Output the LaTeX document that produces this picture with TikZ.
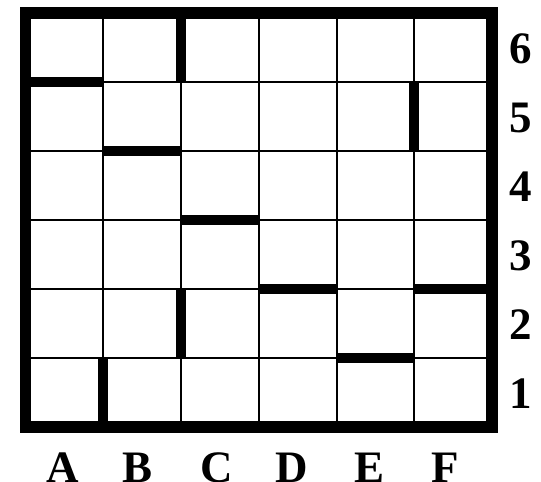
\documentclass[tikz,border=0pt]{standalone}
\usepackage{fontspec}
\setmainfont{Liberation Serif}
\begin{document}
\begin{tikzpicture}[x=1pt,y=-1pt,
  gridline/.style={line width=2pt},
  wall/.style={line width=10pt},
  border/.style={line width=11.5pt},
  lab/.style={font=\fontsize{45}{45}\selectfont\bfseries, inner sep=0pt}]
\useasboundingbox (0,0) rectangle (541,482);
\foreach \i in {0,...,6}
  \foreach \j in {0,...,6}
    \coordinate (g-\i-\j) at ({25.5+\i*77.75},{13+\j*69});
\foreach \i in {1,...,5} \draw[gridline] (g-\i-0) -- (g-\i-6);
\foreach \j in {1,...,5} \draw[gridline] (g-0-\j) -- (g-6-\j);
% walls
\draw[wall] (g-2-0) -- (g-2-1);
\draw[wall] (g-0-1) -- (g-1-1);
\draw[wall] (g-1-2) -- (g-2-2);
\draw[wall] (g-5-1) -- (g-5-2);
\draw[wall] (g-2-3) -- (g-3-3);
\draw[wall] (g-3-4) -- (g-4-4);
\draw[wall] (g-5-4) -- (g-6-4);
\draw[wall] (g-2-4) -- (g-2-5);
\draw[wall] (g-4-5) -- (g-5-5);
\draw[wall] (g-1-5) -- (g-1-6);
\draw[border] (g-0-0) rectangle (g-6-6);
% row labels
\foreach \r [count=\k from 0] in {6,5,4,3,2,1}
  \node[lab] (row\r) at (520.5,{48.5+\k*69}) {\r};
% column labels
\node[lab, anchor=base] (colA) at (63,482) {A};
\node[lab, anchor=base] (colB) at (138,482) {B};
\node[lab, anchor=base] (colC) at (216.5,482) {C};
\node[lab, anchor=base] (colD) at (292,482) {D};
\node[lab, anchor=base] (colE) at (370,482) {E};
\node[lab, anchor=base] (colF) at (445,482) {F};
\end{tikzpicture}
\end{document}
